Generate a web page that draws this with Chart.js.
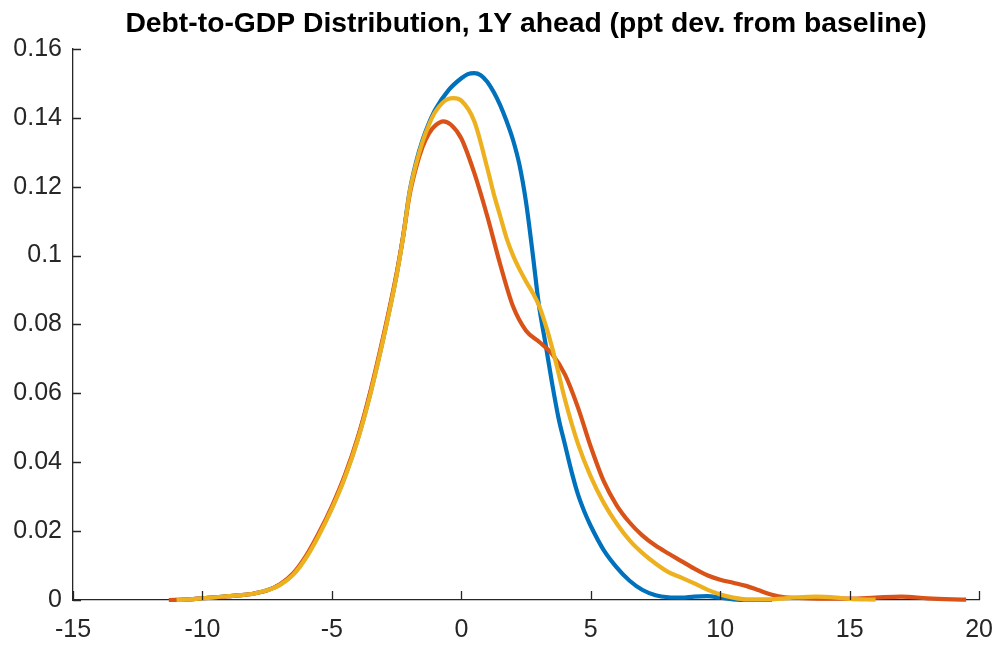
<!DOCTYPE html>
<html>
<head>
<meta charset="utf-8">
<script src="https://cdn.jsdelivr.net/npm/chart.js@4"></script>
<style>
html,body{margin:0;padding:0;background:#fff;}
#wrap{width:1008px;height:646px;}
</style>
</head>
<body>
<div id="wrap"><canvas id="c" width="1008" height="646"></canvas></div>
<script>
const titleText = 'Debt-to-GDP Distribution, 1Y ahead (ppt dev. from baseline)';

const xTicks = [-15, -10, -5, 0, 5, 10, 15, 20];
const yTicks = [0, 0.02, 0.04, 0.06, 0.08, 0.1, 0.12, 0.14, 0.16];

const blueX = [-11.1,-10.5,-10,-9.5,-9,-8.5,-8,-7.5,-7,-6.5,-6,-5.5,-5,-4.5,-4,-3.5,-3,-2.5,-2.25,-2,-1.75,-1.5,-1.25,-1,-0.5,0,0.25,0.5,0.75,1,1.25,1.5,1.75,2,2.25,2.5,2.75,3,3.25,3.5,3.75,4,4.25,4.5,4.75,5,5.5,6,6.5,7,7.5,8,8.5,9,9.5,10,10.5,11,12];
const blueY = [0,0.0002,0.0005,0.0008,0.0011,0.0014,0.0019,0.0028,0.0045,0.0075,0.0125,0.0192,0.0268,0.0358,0.0468,0.0605,0.0765,0.0945,0.1055,0.1185,0.127,0.1335,0.1385,0.1425,0.148,0.1515,0.1527,0.153,0.1524,0.1505,0.1475,0.1437,0.139,0.1335,0.1262,0.1155,0.101,0.0855,0.0745,0.0632,0.053,0.0452,0.0375,0.0308,0.0257,0.0215,0.0145,0.0095,0.0056,0.0029,0.0014,0.0008,0.0007,0.001,0.0011,0.0007,0.0002,0,0];

const redX = [-11.3,-10.5,-10,-9.5,-9,-8.5,-8,-7.5,-7,-6.5,-6,-5.5,-5,-4.5,-4,-3.5,-3,-2.5,-2.25,-2,-1.75,-1.5,-1.25,-1,-0.7,-0.4,0,0.5,1,1.5,2,2.5,3,3.5,4,4.5,5,5.5,6,6.5,7,7.5,8,8.5,9,9.5,10,10.5,11,11.5,12,12.5,13.5,15,16,17,18,19,19.5];
const redY = [0,0.0002,0.0005,0.0008,0.0011,0.0014,0.0019,0.0028,0.0046,0.0077,0.0128,0.0195,0.0272,0.0362,0.0472,0.061,0.077,0.0948,0.1055,0.1175,0.1255,0.1315,0.1355,0.1378,0.139,0.138,0.134,0.124,0.1115,0.0975,0.0852,0.0782,0.075,0.0715,0.0655,0.056,0.0445,0.0345,0.0275,0.0225,0.0187,0.0158,0.0135,0.0113,0.0091,0.0072,0.0059,0.005,0.0041,0.0028,0.0015,0.0008,0.0005,0.0004,0.0007,0.001,0.0005,0.0002,0.0001];

const yellowX = [-11,-10.5,-10,-9.5,-9,-8.5,-8,-7.5,-7,-6.5,-6,-5.5,-5,-4.5,-4,-3.5,-3,-2.5,-2.25,-2,-1.75,-1.5,-1.25,-1,-0.5,-0.3,0,0.5,1,1.25,1.5,1.75,2,2.25,2.5,2.75,3,3.25,3.5,3.75,4,4.5,5,5.5,6,6.5,7,7.5,8,8.5,9,9.5,10,10.5,11,12,13,13.7,14.5,15,16];
const yellowY = [0,0.0002,0.0005,0.0008,0.0011,0.0014,0.0019,0.0028,0.0044,0.0073,0.0122,0.0188,0.0265,0.0355,0.0465,0.0602,0.0762,0.0942,0.1052,0.1182,0.1265,0.133,0.138,0.1418,0.1455,0.1457,0.145,0.139,0.1255,0.118,0.1115,0.105,0.1,0.096,0.0925,0.0893,0.0855,0.08,0.0735,0.066,0.0583,0.0455,0.0358,0.0282,0.0222,0.0173,0.0136,0.0106,0.0081,0.0065,0.0048,0.003,0.0016,0.0007,0.0002,0.0002,0.0008,0.001,0.0007,0.0003,0.0001];

function pts(xs, ys){ return xs.map((x,i)=>({x:x, y:ys[i]})); }

const axisColor = '#262626';
const fontFamily = "'Liberation Sans', Arial, Helvetica, sans-serif";

const inwardTicks = {
  id: 'inwardTicks',
  afterDraw(chart){
    const ctx = chart.ctx, a = chart.chartArea;
    const xs = chart.scales.x, ys = chart.scales.y;
    ctx.save();
    ctx.strokeStyle = axisColor;
    ctx.lineWidth = 1.3;
    ctx.beginPath();
    xs.ticks.forEach(t=>{
      const px = Math.round(xs.getPixelForValue(t.value))+0.5;
      ctx.moveTo(px, a.bottom); ctx.lineTo(px, a.bottom-9);
    });
    ys.ticks.forEach(t=>{
      const py = Math.round(ys.getPixelForValue(t.value))+0.5;
      ctx.moveTo(a.left, py); ctx.lineTo(a.left+8, py);
    });
    ctx.stroke();
    ctx.restore();
  }
};

const common = {borderWidth:4.2, pointRadius:0, cubicInterpolationMode:'monotone', clip:6, fill:false};

new Chart(document.getElementById('c'), {
  type: 'line',
  data: {
    datasets: [
      Object.assign({label:'yellow', data: pts(yellowX, yellowY), borderColor:'#EDB120'}, common),
      Object.assign({label:'red', data: pts(redX, redY), borderColor:'#D95319'}, common),
      Object.assign({label:'blue', data: pts(blueX, blueY), borderColor:'#0072BD'}, common)
    ]
  },
  options: {
    responsive:false,
    animation:false,
    events:[],
    layout:{padding:{left:0,right:21,top:0,bottom:0}},
    plugins:{
      legend:{display:false},
      tooltip:{enabled:false},
      title:{
        display:true, text:titleText, fullSize:false,
        color:'#000',
        font:{family:fontFamily, size:28.3, weight:'bold', lineHeight:1.2},
        padding:{top:7,bottom:8}
      }
    },
    scales:{
      x:{
        type:'linear', min:-15, max:20,
        afterBuildTicks(s){ s.ticks = xTicks.map(v=>({value:v})); },
        afterFit(s){ s.height = 46; },
        grid:{display:true, drawOnChartArea:false, drawTicks:false},
        border:{display:true, color:axisColor, width:1.3},
        ticks:{color:axisColor, padding:15, maxRotation:0, autoSkip:false,
          font:{family:fontFamily, size:25},
          callback:(v)=>String(v)}
      },
      y:{
        type:'linear', min:0, max:0.16,
        afterBuildTicks(s){ s.ticks = yTicks.map(v=>({value:v})); },
        afterFit(s){ s.width = 73; },
        grid:{display:true, drawOnChartArea:false, drawTicks:false},
        border:{display:true, color:axisColor, width:1.3},
        ticks:{color:axisColor, padding:11, autoSkip:false,
          font:{family:fontFamily, size:25},
          callback:(v)=>String(+Number(v).toFixed(2))}
      }
    }
  },
  plugins:[inwardTicks]
});
</script>
</body>
</html>
